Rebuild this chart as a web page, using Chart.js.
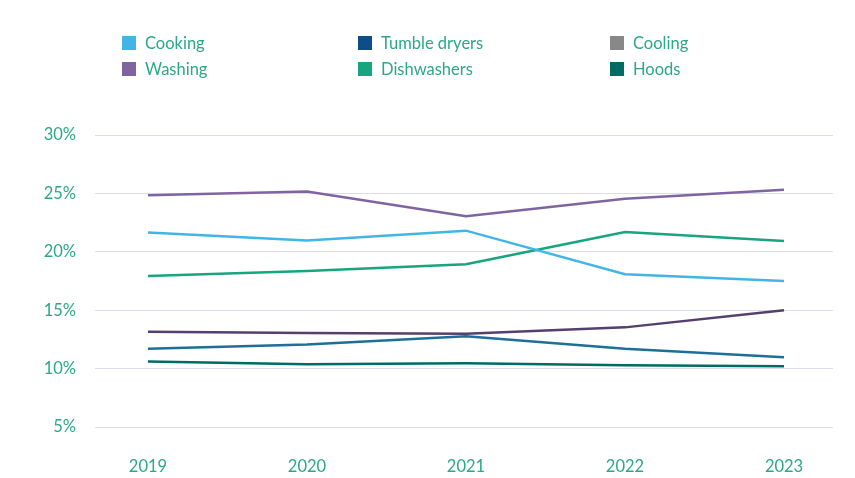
<!DOCTYPE html>
<html><head><meta charset="utf-8">
<script src="https://cdn.jsdelivr.net/npm/chart.js@4/dist/chart.umd.min.js"></script>
<style>
html,body{margin:0;padding:0;background:#fff;}
#wrap{position:relative;width:855px;height:478px;}
#legend{position:absolute;left:0;top:0;width:855px;height:100px;font-family:Lato,sans-serif;font-size:16.5px;color:#2aa889;}
.li{position:absolute;display:flex;align-items:center;white-space:nowrap;}
.sw{width:14px;height:14px;margin-right:9px;}
</style></head>
<body><div id="wrap"><canvas id="c" width="855" height="478"></canvas><div id="legend"></div></div>
<script>
const years = [2019, 2020, 2021, 2022, 2023];
const cooking = [21.66, 20.97, 21.81, 18.08, 17.5];
const tumbleDryers = [11.69, 12.07, 12.76, 11.69, 10.97];
const cooling = [13.16, 13.04, 12.98, 13.53, 15.0];
const washing = [24.85, 25.17, 23.04, 24.54, 25.32];
const dishwashers = [17.93, 18.36, 18.94, 21.7, 20.92];
const hoods = [10.6, 10.37, 10.46, 10.29, 10.2];
const seriesNames = ["Cooking", "Tumble dryers", "Cooling", "Washing", "Dishwashers", "Hoods"];
const yTicks = [5, 10, 15, 20, 25, 30];

const legendColors = ["#41b6e6", "#0f4c8a", "#888888", "#8064a2", "#16a57f", "#006b62"];
const lineColors = ["#41b6e6", "#1d6f99", "#553f6e", "#8064a2", "#16a57f", "#006b62"];
const values = [cooking, tumbleDryers, cooling, washing, dishwashers, hoods];

const datasets = seriesNames.map((n, i) => ({
  label: n,
  data: years.map((y, j) => ({x: y, y: values[i][j]})),
  borderColor: lineColors[i],
  backgroundColor: legendColors[i],
  borderWidth: 2.5,
  pointRadius: 0,
  tension: 0,
  fill: false
}));

const legPos = [[122,43],[358,43],[610,43],[122,69],[358,69],[610,69]];
const leg = document.getElementById('legend');
seriesNames.forEach((n, i) => {
  const d = document.createElement('div');
  d.className = 'li';
  d.style.left = legPos[i][0] + 'px';
  d.style.top = (legPos[i][1] - 10) + 'px';
  d.innerHTML = '<span class="sw" style="background:' + legendColors[i] + '"></span><span>' + n + '</span>';
  leg.appendChild(d);
});

const tickColor = "#2aa889";
new Chart(document.getElementById('c'), {
  type: 'line',
  data: { datasets },
  options: {
    responsive: false,
    animation: false,
    layout: { padding: { top: 135, right: 22, left: 0, bottom: 0 } },
    plugins: { legend: { display: false }, tooltip: { enabled: false } },
    scales: {
      x: {
        type: 'linear',
        min: 2018.667, max: 2023.308,
        afterBuildTicks: s => { s.ticks = years.map(v => ({value: v})); },
        afterFit: s => { s.height = 51; },
        grid: { display: false },
        border: { display: false },
        ticks: { color: tickColor, font: { family: 'Lato', size: 16.5 }, padding: 22,
                 callback: v => String(v), maxRotation: 0, autoSkip: false }
      },
      y: {
        min: 5, max: 30,
        afterBuildTicks: s => { s.ticks = yTicks.map(v => ({value: v})); },
        afterFit: s => { s.width = 95; },
        grid: { color: '#dcdcee', lineWidth: 1, drawTicks: false },
        border: { display: false },
        ticks: { color: tickColor, font: { family: 'Lato', size: 16.5 }, padding: 19,
                 callback: v => v + '%' }
      }
    }
  }
});
</script></body></html>
